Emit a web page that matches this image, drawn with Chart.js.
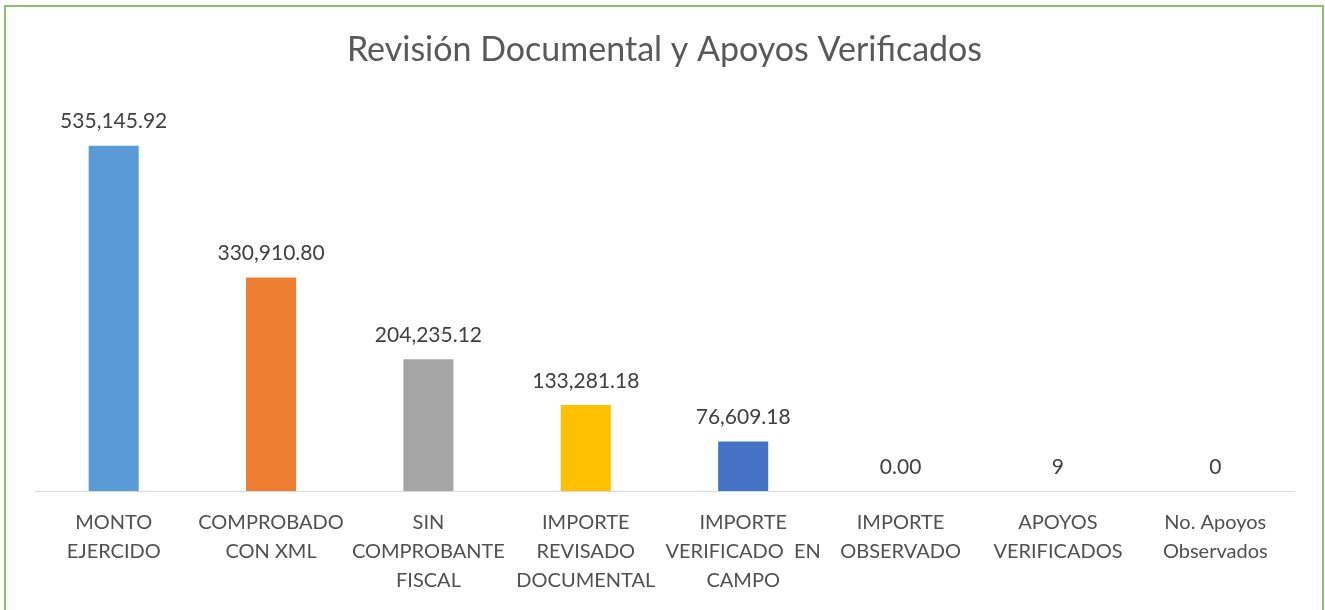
<!DOCTYPE html>
<html>
<head>
<meta charset="utf-8">
<script src="https://cdn.jsdelivr.net/npm/chart.js@4/dist/chart.umd.min.js"></script>
<style>
  body { margin: 0; background: #fff; }
  #wrap { position: relative; width: 1325px; height: 610px; }
  #frame {
    position: absolute; left: 4px; top: 5px; width: 1316px; height: 640px;
    border: 2px solid #8cc168; pointer-events: none;
  }
</style>
</head>
<body>
<div id="wrap">
  <canvas id="chart" width="1325" height="610"></canvas>
  <div id="frame"></div>
</div>
<script>
const categories = [
    ["MONTO", "EJERCIDO"],
    ["COMPROBADO", "CON XML"],
    ["SIN", "COMPROBANTE", "FISCAL"],
    ["IMPORTE", "REVISADO", "DOCUMENTAL"],
    ["IMPORTE", "VERIFICADO  EN", "CAMPO"],
    ["IMPORTE", "OBSERVADO"],
    ["APOYOS", "VERIFICADOS"],
    ["No. Apoyos", "Observados"],
];
const values = [535145.92, 330910.8, 204235.12, 133281.18, 76609.18, 0, 9, 0];
const decimals = [2, 2, 2, 2, 2, 2, 0, 0];
const barColors = ["#5b9bd5", "#ed7d31", "#a5a5a5", "#ffc000", "#4472c4", "#5b9bd5", "#70ad47", "#264478"];

const FONT = "Lato, 'Open Sans', sans-serif";

// value labels above each bar
const valueLabels = {
    id: "valueLabels",
    afterDatasetsDraw(chart) {
        const ctx = chart.ctx;
        const meta = chart.getDatasetMeta(0);
        ctx.save();
        ctx.font = "21px " + FONT;
        ctx.fillStyle = "#404040";
        ctx.textAlign = "center";
        ctx.textBaseline = "middle";
        meta.data.forEach((bar, i) => {
            const txt = values[i].toLocaleString("en-US", {
                minimumFractionDigits: decimals[i],
                maximumFractionDigits: decimals[i],
            });
            ctx.fillText(txt, bar.x, bar.y - 24);
        });
        ctx.restore();
    },
};

new Chart(document.getElementById("chart"), {
    type: "bar",
    data: {
        labels: categories,
        datasets: [
            {
                data: values,
                backgroundColor: barColors,
                categoryPercentage: 1,
                barPercentage: 0.318,
            },
        ],
    },
    options: {
        responsive: false,
        animation: false,
        layout: { padding: { left: 35, right: 31, top: 0, bottom: 6 } },
        plugins: {
            legend: { display: false },
            tooltip: { enabled: false },
            title: {
                display: true,
                text: "Revisión Documental y Apoyos Verificados",
                color: "#595959",
                font: { family: FONT, size: 34, weight: "normal" },
                padding: { top: 30, bottom: 33 },
            },
        },
        scales: {
            x: {
                grid: { display: false },
                border: { display: true, color: "#d9d9d9", width: 1 },
                ticks: {
                    color: "#505050",
                    font: { family: FONT, size: 20, lineHeight: 1.45 },
                    padding: 9,
                    autoSkip: false,
                    maxRotation: 0,
                },
            },
            y: {
                display: false,
                min: 0,
                max: 600000,
            },
        },
    },
    plugins: [valueLabels],
});
</script>
</body>
</html>
